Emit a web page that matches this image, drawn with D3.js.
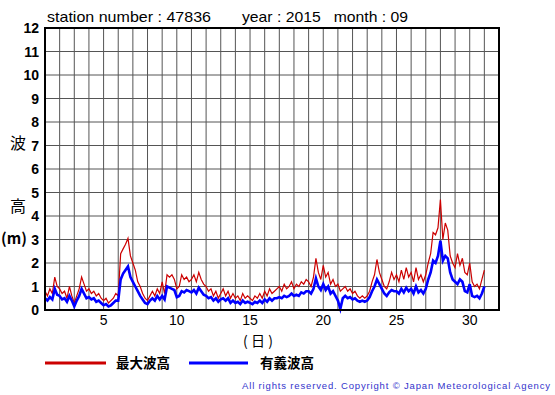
<!DOCTYPE html>
<html>
<head>
<meta charset="utf-8">
<script src="https://cdn.jsdelivr.net/npm/d3@7"></script>
<style>
  body { margin: 0; background: #fff; }
  text { font-family: "Liberation Sans", Arial, sans-serif; }
</style>
</head>
<body>
<script>
let w = 555;
let h = 395;

// 4-hourly readings, one row per day (00,04,08,12,16,20h), last value = 30th 24h
const maxWave = [
  0.8, 0.6, 0.9, 0.7, 1.4, 1.0,
  0.9, 0.7, 0.8, 0.5, 1.0, 0.6,
  0.3, 0.6, 0.9, 1.4, 1.1, 0.8,
  0.9, 0.7, 0.8, 0.6, 0.7, 0.5,
  0.4, 0.5, 0.3, 0.4, 0.5, 0.7,
  0.6, 2.4, 2.6, 2.8, 3.05, 2.3,
  2.0, 1.7, 1.2, 1.0, 0.7, 0.5,
  0.4, 0.6, 0.8, 0.6, 0.9, 0.7,
  1.2, 0.7, 1.5, 1.4, 1.5, 1.3,
  0.9, 1.0, 1.5, 1.3, 1.4, 1.2,
  1.3, 1.5, 1.2, 1.6, 1.3, 1.1,
  1.0, 0.8, 0.9, 0.6, 0.8, 0.5,
  0.7, 0.9, 0.6, 0.8, 0.5, 0.7,
  0.5, 0.6, 0.4, 0.7, 0.5, 0.6,
  0.5, 0.4, 0.6, 0.5, 0.7, 0.5,
  0.8, 0.6, 0.9, 0.7, 0.8, 0.9,
  1.0, 0.8, 1.1, 0.9, 1.0, 1.2,
  0.9, 1.1, 1.0, 1.2, 1.1, 1.3,
  1.2, 1.0, 1.4, 2.2, 1.6, 1.3,
  1.9, 1.4, 1.6, 1.1, 1.3, 1.0,
  1.1, 0.8, 0.9, 1.0, 0.8, 0.9,
  0.7, 0.8, 0.6, 0.5, 0.6, 0.5,
  0.6, 0.8, 1.2, 1.5, 2.15, 1.6,
  1.3, 1.0, 0.9, 1.2, 1.6, 1.3,
  1.5, 1.2, 1.7, 1.3, 1.8, 1.4,
  1.6, 1.2, 1.8, 1.3, 1.5, 1.2,
  1.5, 2.0, 2.4, 3.3, 3.2, 3.5,
  4.7, 3.0, 3.7, 3.4, 2.3, 2.0,
  1.8, 2.4, 1.9, 2.2, 1.6, 1.5,
  2.0, 1.2, 1.0, 1.1, 0.9, 1.3,
  1.7
];
const sigWave = [
  0.5, 0.4, 0.55, 0.45, 0.9, 0.65,
  0.6, 0.45, 0.5, 0.35, 0.6, 0.4,
  0.15, 0.4, 0.6, 0.9, 0.7, 0.5,
  0.55, 0.45, 0.5, 0.35, 0.4, 0.3,
  0.2, 0.25, 0.15, 0.2, 0.3, 0.4,
  0.4, 1.3, 1.55, 1.7, 1.85, 1.4,
  1.2, 1.0, 0.8, 0.6, 0.45, 0.3,
  0.25, 0.4, 0.5, 0.4, 0.6, 0.45,
  0.6, 0.45, 1.0, 0.95, 0.9, 0.85,
  0.55, 0.6, 0.8, 0.75, 0.85, 0.8,
  0.75, 0.85, 0.7, 0.95, 0.8, 0.65,
  0.6, 0.5, 0.55, 0.4, 0.5, 0.35,
  0.45, 0.5, 0.4, 0.5, 0.3, 0.4,
  0.3, 0.35, 0.25, 0.4, 0.3, 0.35,
  0.3, 0.25, 0.35, 0.3, 0.4, 0.3,
  0.45, 0.35, 0.5, 0.4, 0.5, 0.5,
  0.55, 0.5, 0.6, 0.55, 0.6, 0.7,
  0.6, 0.65, 0.6, 0.75, 0.7, 0.8,
  0.8, 0.7, 0.9, 1.35, 1.0, 0.85,
  1.1, 0.85, 1.0, 0.7, 0.8, 0.6,
  0.4, 0.05, 0.5, 0.6, 0.5, 0.55,
  0.45, 0.5, 0.4, 0.35, 0.4, 0.35,
  0.4, 0.55, 0.8, 1.0, 1.3, 1.1,
  0.9, 0.7, 0.6, 0.75, 0.85, 0.8,
  0.8, 0.7, 0.9, 0.75, 0.95, 0.8,
  0.9, 0.7, 1.0, 0.75, 0.85, 0.7,
  0.9, 1.3, 1.6, 2.1, 2.0, 2.3,
  2.95, 2.1, 2.3, 2.2, 1.6, 1.3,
  1.2, 1.1, 1.3, 1.2, 0.8, 0.75,
  1.1, 0.6, 0.55, 0.6, 0.5, 0.7,
  1.0
];
const xTicks = [5, 10, 15, 20, 25, 30];
const yTicks = [0, 1, 2, 3, 4, 5, 6, 7, 8, 9, 10, 11, 12];

let svg = d3.select("body").append("svg").attr("width", w).attr("height", h);

let pLeft = 45, pRight = 499, pTop = 28, pBottom = 310;

let x = d3.scaleLinear().domain([1, 32]).range([pLeft, pRight]);
let y = d3.scaleLinear().domain([0, 12]).range([pBottom, pTop]);

//grid
svg.selectAll(".vgrid")
  .data(d3.range(2, 32))
  .enter()
  .append("line")
  .attr("x1", function (d) { return x(d); })
  .attr("x2", function (d) { return x(d); })
  .attr("y1", pTop)
  .attr("y2", pBottom)
  .attr("stroke", "#555")
  .attr("stroke-width", 1);

svg.selectAll(".hgrid")
  .data(yTicks.slice(1, -1))
  .enter()
  .append("line")
  .attr("x1", pLeft)
  .attr("x2", pRight)
  .attr("y1", function (d) { return y(d); })
  .attr("y2", function (d) { return y(d); })
  .attr("stroke", "#555")
  .attr("stroke-width", 1);

//lines
let line = d3.line()
  .x(function (d, i) { return x(1 + i / 6); })
  .y(function (d) { return y(d); });

svg.append("path")
  .datum(maxWave)
  .attr("d", line)
  .attr("fill", "none")
  .attr("stroke", "#cc0000")
  .attr("stroke-width", 1.2);

svg.append("path")
  .datum(sigWave)
  .attr("d", line)
  .attr("fill", "none")
  .attr("stroke", "#0000ff")
  .attr("stroke-width", 2.6);

//frame
svg.append("rect")
  .attr("x", pLeft)
  .attr("y", pTop)
  .attr("width", pRight - pLeft)
  .attr("height", pBottom - pTop)
  .attr("fill", "none")
  .attr("stroke", "#000")
  .attr("stroke-width", 2);

//y tick labels
svg.selectAll(".ylab")
  .data(yTicks)
  .enter()
  .append("text")
  .text(function (d) { return d; })
  .attr("x", 39)
  .attr("y", function (d) { return y(d) + 5; })
  .attr("text-anchor", "end")
  .attr("font-size", 14)
  .attr("font-weight", "bold");

//x tick labels
svg.selectAll(".xlab")
  .data(xTicks)
  .enter()
  .append("text")
  .text(function (d) { return d; })
  .attr("x", function (d) { return x(d); })
  .attr("y", 325)
  .attr("text-anchor", "middle")
  .attr("font-size", 14);

//titles
svg.append("text")
  .text("station number : 47836")
  .attr("x", 47)
  .attr("y", 22)
  .attr("font-size", 15)
  .attr("textLength", 164)
  .attr("lengthAdjust", "spacingAndGlyphs");
svg.append("text")
  .text("year : 2015   month : 09")
  .attr("x", 242)
  .attr("y", 22)
  .attr("font-size", 15)
  .attr("textLength", 166)
  .attr("lengthAdjust", "spacingAndGlyphs")
  .style("white-space", "pre");

svg.append("text").text("波").attr("x", 10).attr("y", 149)
  .attr("font-size", 16).style("font-family", "'Noto Sans CJK JP'");
svg.append("text").text("高").attr("x", 10).attr("y", 212)
  .attr("font-size", 16).style("font-family", "'Noto Sans CJK JP'");
svg.append("text").text("(m)").attr("x", 1).attr("y", 244)
  .attr("font-size", 15).attr("font-weight", "bold")
  .attr("textLength", 26)
  .style("font-family", "'Noto Sans CJK JP'");
svg.append("text").text("(日)").attr("x", 258).attr("y", 346)
  .attr("text-anchor", "middle")
  .attr("font-size", 14)
  .attr("textLength", 30)
  .style("font-family", "'Noto Sans CJK JP'");

//legend
svg.append("line").attr("x1", 45).attr("x2", 106).attr("y1", 363).attr("y2", 363)
  .attr("stroke", "#cc0000").attr("stroke-width", 3);
svg.append("text").text("最大波高").attr("x", 116).attr("y", 368)
  .attr("font-size", 13.5).attr("font-weight", "bold")
  .style("font-family", "'Noto Sans CJK JP'");
svg.append("line").attr("x1", 189).attr("x2", 248).attr("y1", 363).attr("y2", 363)
  .attr("stroke", "#0000ff").attr("stroke-width", 3);
svg.append("text").text("有義波高").attr("x", 260).attr("y", 368)
  .attr("font-size", 13.5).attr("font-weight", "bold")
  .style("font-family", "'Noto Sans CJK JP'");

svg.append("text")
  .text("All rights reserved. Copyright © Japan Meteorological Agency")
  .attr("x", 242)
  .attr("y", 389)
  .attr("font-size", 9.5)
  .attr("textLength", 308)
  .attr("lengthAdjust", "spacing")
  .attr("fill", "#3333cc");
</script>
</body>
</html>
